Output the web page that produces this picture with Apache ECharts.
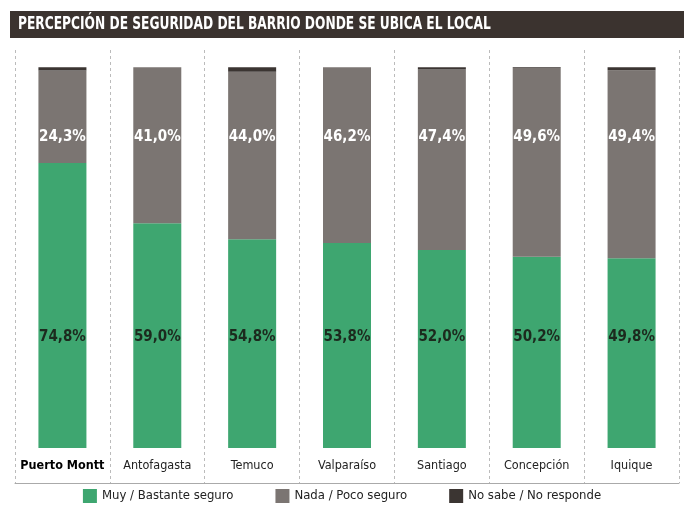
<!DOCTYPE html>
<html>
<head>
<meta charset="utf-8">
<script src="https://cdn.jsdelivr.net/npm/echarts@6/dist/echarts.min.js"></script>
<style>
  html, body { margin: 0; padding: 0; background: #fff; }
  #main { width: 684px; height: 518px; }
</style>
</head>
<body>
<div id="main"></div>
<script>
var ciudades = ['Puerto Montt', 'Antofagasta', 'Temuco', 'Valparaíso', 'Santiago', 'Concepción', 'Iquique'];
var seguro = [74.8, 59.0, 54.8, 53.8, 52.0, 50.2, 49.8];
var inseguro = [24.3, 41.0, 44.0, 46.2, 47.4, 49.6, 49.4];
var noSabe = [0.9, 0, 1.2, 0, 0.6, 0.2, 0.8];

var fuente = '"DejaVu Sans Condensed", "Liberation Sans Narrow", sans-serif';
var myChart = echarts.init(document.getElementById('main'));

function pct(p) {
  return p.value.toFixed(1).replace('.', ',') + '%';
}

// etiqueta gris siempre a la misma altura (~81% del eje)
var pxPorPunto = 3.81;
var insegData = inseguro.map(function (v, i) {
  var tope = seguro[i] + v;
  return { value: v, label: { distance: (tope - 81.4) * pxPorPunto - 8 } };
});

var option = {
  animation: false,
  textStyle: { fontFamily: fuente },
  graphic: [
    {
      type: 'rect',
      left: 10, top: 11,
      shape: { width: 674, height: 27 },
      style: { fill: '#3b332f' }
    },
    {
      type: 'text',
      x: 18, y: 16,
      scaleX: 0.8,
      style: {
        text: 'PERCEPCIÓN DE SEGURIDAD DEL BARRIO DONDE SE UBICA EL LOCAL',
        fill: '#fff',
        font: 'bold 17px ' + fuente
      }
    }
  ],
  legend: {
    bottom: 10,
    left: 'center',
    itemWidth: 14,
    itemHeight: 14,
    itemGap: 42,
    icon: 'rect',
    textStyle: { fontSize: 13, color: '#222', fontFamily: fuente },
    data: ['Muy / Bastante seguro', 'Nada / Poco seguro', 'No sabe / No responde']
  },
  grid: { left: 15, right: 5, top: 50, bottom: 35 },
  xAxis: {
    type: 'category',
    data: ciudades,
    axisLine: { onZero: false, lineStyle: { color: '#aaa', width: 1 } },
    axisTick: { show: false },
    splitLine: { show: true, interval: 0, lineStyle: { color: '#bbb', type: [3, 3] } },
    axisLabel: {
      inside: true,
      margin: 11,
      interval: 0,
      fontSize: 12.5,
      color: '#222',
      fontFamily: fuente,
      formatter: function (v, i) { return i === 0 ? '{b|' + v + '}' : v; },
      rich: { b: { fontWeight: 'bold', color: '#000', fontSize: 12.5, fontFamily: fuente } }
    }
  },
  yAxis: {
    type: 'value',
    min: -9.2,
    max: 104.5,
    show: false,
    splitLine: { show: false }
  },
  series: [
    {
      name: 'Muy / Bastante seguro',
      type: 'bar',
      stack: 'total',
      barWidth: 48,
      data: seguro,
      itemStyle: { color: '#3ea670' },
      label: {
        show: true,
        position: 'insideBottom',
        distance: 103,
        formatter: pct,
        color: '#1c2a1e',
        fontSize: 15,
        fontWeight: 'bold',
        fontFamily: fuente
      }
    },
    {
      name: 'Nada / Poco seguro',
      type: 'bar',
      stack: 'total',
      data: insegData,
      itemStyle: { color: '#7b7572' },
      label: {
        show: true,
        position: 'insideTop',
        formatter: pct,
        color: '#fff',
        fontSize: 15,
        fontWeight: 'bold',
        fontFamily: fuente
      }
    },
    {
      name: 'No sabe / No responde',
      type: 'bar',
      stack: 'total',
      data: noSabe,
      itemStyle: { color: '#3b3532' }
    }
  ]
};
myChart.setOption(option);
</script>
</body>
</html>
